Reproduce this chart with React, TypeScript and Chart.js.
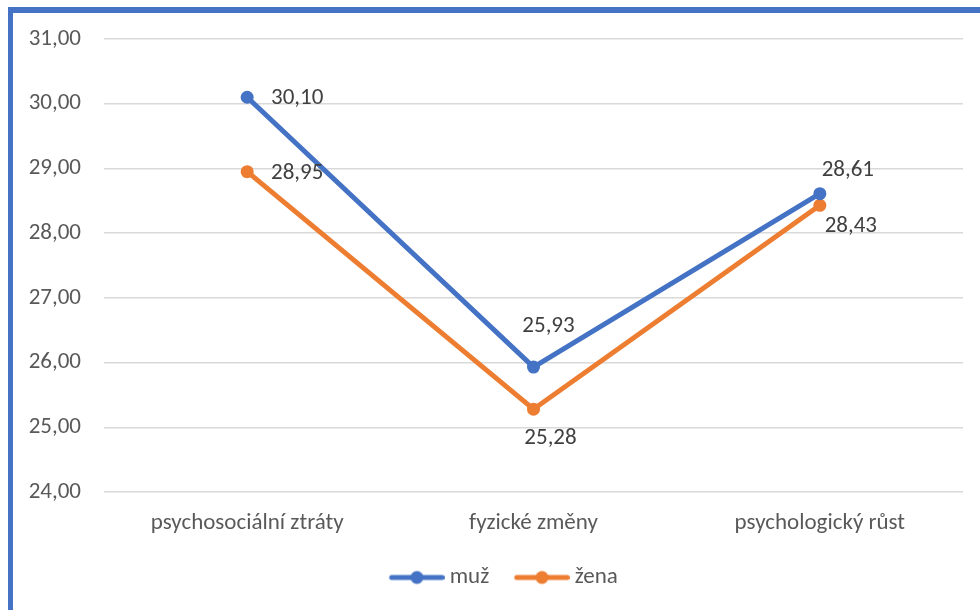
import React, { useEffect, useRef } from "react";
import { Chart, registerables } from "chart.js";

Chart.register(...registerables);

// Chart data
const categories = ["psychosociální ztráty", "fyzické změny", "psychologický růst"];
const seriesNames = ["muž", "žena"];
const muzValues = [30.1, 25.93, 28.61];
const zenaValues = [28.95, 25.28, 28.43];
const yMin = 24;
const yMax = 31;

// Colours
const BLUE = "#4472C4";
const ORANGE = "#ED7D31";
const GRID = "#D9D9D9";
const TICK_TEXT = "#595959";
const LABEL_TEXT = "#404040";
const FONT = "Calibri, Carlito, Lato, sans-serif";
const FONT_SIZE = 23;

// Value label placement (offset of the label centre from its point)
const LABEL_OFFSETS: [number, number][][] = [
  [[50, 1], [15, -41], [28, -23]],
  [[50, 2], [17, 29], [31, 21]],
];

// Legend symbol geometry
const LEGEND_BOX = 54;
const LEGEND_EXTRA = 6.5;
const LEGEND_LEAD = 11.5;

const fmt = (v: number) => v.toFixed(2).replace(".", ",");

// Line-with-marker swatch; it overhangs the legend box so the text sits close
function legendSymbol(color: string): HTMLCanvasElement {
  const c = document.createElement("canvas");
  c.width = LEGEND_BOX + 2 * LEGEND_EXTRA;
  c.height = 16;
  const ctx = c.getContext("2d")!;
  const x0 = LEGEND_LEAD + 2.5;
  const x1 = c.width - 2.5;
  ctx.strokeStyle = color;
  ctx.lineWidth = 5;
  ctx.lineCap = "round";
  ctx.beginPath();
  ctx.moveTo(x0, 8);
  ctx.lineTo(x1, 8);
  ctx.stroke();
  ctx.fillStyle = color;
  ctx.beginPath();
  ctx.arc((x0 + x1) / 2, 8, 6.5, 0, Math.PI * 2);
  ctx.fill();
  return c;
}

const valueLabels = {
  id: "valueLabels",
  afterDatasetsDraw(chart: any) {
    const ctx = chart.ctx;
    ctx.save();
    ctx.font = `${FONT_SIZE}px ${FONT}`;
    ctx.fillStyle = LABEL_TEXT;
    ctx.textAlign = "center";
    ctx.textBaseline = "middle";
    chart.data.datasets.forEach((ds: any, di: number) => {
      const meta = chart.getDatasetMeta(di);
      meta.data.forEach((pt: any, i: number) => {
        const [dx, dy] = LABEL_OFFSETS[di][i];
        ctx.fillText(fmt(ds.data[i]), pt.x + dx, pt.y + dy);
      });
    });
    ctx.restore();
  },
};

// Nudges the legend block right of centre and slightly up
const legendNudge = {
  id: "legendNudge",
  afterLayout(chart: any) {
    const lg = chart.legend;
    if (!lg) return;
    lg.left += 19.5;
    lg.right += 19.5;
    lg.top -= 8;
    lg.bottom -= 8;
  },
};

export default function App() {
  const ref = useRef<HTMLCanvasElement>(null);

  useEffect(() => {
    if (!ref.current) return;
    const colors = [BLUE, ORANGE];
    const values = [muzValues, zenaValues];
    const chart = new Chart(ref.current, {
      type: "line",
      data: {
        labels: categories,
        datasets: seriesNames.map((name, i) => ({
          label: name,
          data: values[i],
          borderColor: colors[i],
          backgroundColor: colors[i],
          borderWidth: 5,
          pointRadius: 6.5,
          pointHoverRadius: 6.5,
          pointBorderWidth: 0,
          pointStyle: "circle",
          tension: 0,
          fill: false,
        })),
      },
      options: {
        animation: false,
        responsive: false,
        events: [],
        layout: { padding: { left: 0, right: 17, top: 39, bottom: 3 } },
        plugins: {
          tooltip: { enabled: false },
          legend: {
            position: "bottom",
            labels: {
              color: TICK_TEXT,
              font: { family: FONT, size: FONT_SIZE },
              usePointStyle: true,
              pointStyleWidth: LEGEND_BOX,
              padding: 20,
              generateLabels: (ch: any) =>
                ch.data.datasets.map((ds: any, i: number) => ({
                  text: ds.label,
                  fillStyle: ds.borderColor,
                  strokeStyle: ds.borderColor,
                  lineWidth: 0,
                  pointStyle: legendSymbol(ds.borderColor),
                  fontColor: TICK_TEXT,
                  hidden: false,
                  datasetIndex: i,
                })),
            },
          },
        },
        scales: {
          x: {
            offset: true,
            grid: { display: false, drawTicks: false },
            border: { display: false },
            ticks: {
              color: TICK_TEXT,
              font: { family: FONT, size: FONT_SIZE },
              padding: 17,
              maxRotation: 0,
            },
            afterFit: (s: any) => {
              s.height = 62;
            },
          },
          y: {
            min: yMin,
            max: yMax,
            grid: { color: GRID, lineWidth: 1.5, drawTicks: false },
            border: { display: false },
            ticks: {
              stepSize: 1,
              color: TICK_TEXT,
              font: { family: FONT, size: FONT_SIZE },
              padding: 23,
              callback: (v: any) => fmt(Number(v)),
            },
            afterFit: (s: any) => {
              s.width = 104;
            },
          },
        },
      },
      plugins: [valueLabels, legendNudge],
    });
    return () => chart.destroy();
  }, []);

  return (
    <div
      style={{
        position: "fixed",
        left: 0,
        top: 0,
        width: 980,
        height: 610,
        background: "#fff",
        overflow: "hidden",
      }}
    >
      <canvas
        ref={ref}
        width={980}
        height={610}
        style={{ position: "absolute", left: 0, top: 0, display: "block" }}
      />
      <div
        style={{
          position: "absolute",
          left: 8,
          top: 7,
          width: 990,
          height: 620,
          borderLeft: `5px solid ${BLUE}`,
          borderTop: `6px solid ${BLUE}`,
          boxSizing: "border-box",
          pointerEvents: "none",
        }}
      />
    </div>
  );
}
